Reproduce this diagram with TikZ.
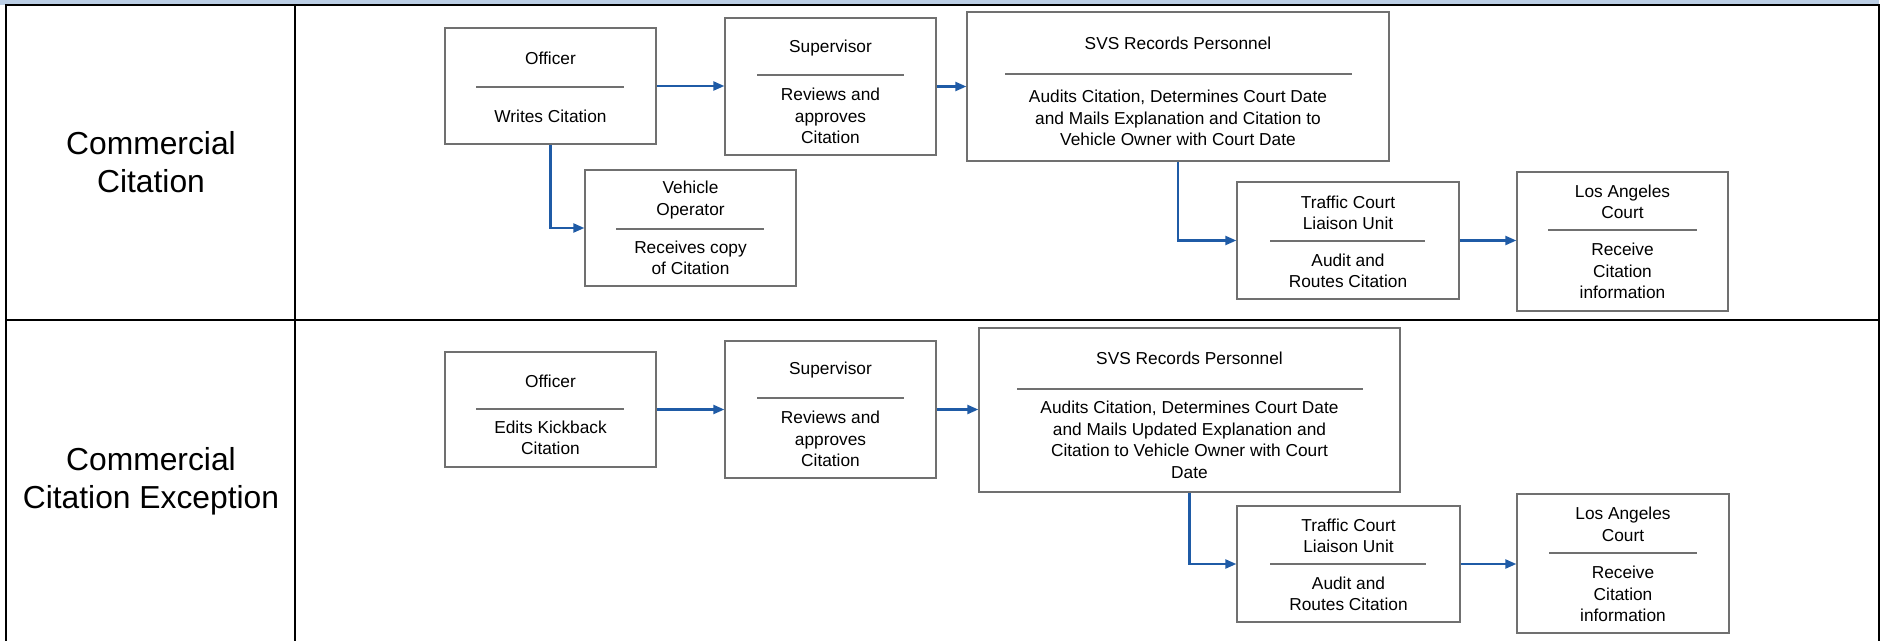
\documentclass[tikz,border=0pt]{standalone}
\usepackage{fontspec}
\setmainfont{Liberation Sans}
\usetikzlibrary{arrows.meta}

\definecolor{flowblue}{RGB}{31,91,166}
\definecolor{bandblue}{RGB}{187,206,229}
\definecolor{boxgray}{RGB}{112,112,112}

\tikzset{
  procbox/.style={draw=boxgray, line width=1.3pt, inner sep=0pt, fill=white},
  boxtext/.style={align=center, inner sep=0pt, font=\fontsize{17.3}{21.5}\selectfont},
  rowlabel/.style={align=center, inner sep=0pt, font=\fontsize{31.8}{38}\selectfont},
  divider/.style={draw=boxgray, line width=1.3pt},
  flow/.style={draw=flowblue, line width=2.2pt, -{Triangle[length=11pt,width=9pt]}},
  frame/.style={draw=black, line width=2.6pt},
}

% process box given by its corners (x1,y1) and (x2,y2)
\newcommand\stepbox[5]{%
  \node[procbox, minimum width={#4-#2}, minimum height={#5-#3}]
    (#1) at ({(#2+#4)/2},{(#3+#5)/2}) {};}

\begin{document}
\begin{tikzpicture}[x=1pt, y=-1pt]
\useasboundingbox (0,0) rectangle (1883,641);

% header band and table frame
\fill[bandblue] (0,0) rectangle (1879,4.5);
\draw[frame] (5,5) -- (1879,5);
\draw[frame] (6,4) -- (6,641);
\draw[frame] (1879,4) -- (1879,641);
\draw[frame] (295,5) -- (295,641);
\draw[frame] (6,320) -- (1879,320);

% row labels
\node[rowlabel] (lab1) at (151,162.5) {Commercial\\Citation};
\node[rowlabel] (lab2) at (151,481.5) {Commercial\\Citation Exception};

% ---------- first row ----------
\stepbox{A1}{445}{28}{656}{144}
\draw[divider] (476,87) -- (624,87);
\node[boxtext] (A1t) at (550.5,58) {Officer};
\node[boxtext] (A1b) at (550.5,116) {Writes Citation};

\stepbox{B1}{585}{170}{796}{286}
\draw[divider] (616,229) -- (764,229);
\node[boxtext] (B1t) at (690.5,200) {Vehicle\\Operator};
\node[boxtext] (B1b) at (690.5,258) {Receives copy\\of Citation};

\stepbox{C1}{725}{18}{936}{155}
\draw[divider] (757,75) -- (904,75);
\node[boxtext] (C1t) at (830.5,48) {Supervisor};
\node[boxtext] (C1b) at (830.5,116) {Reviews and\\approves\\Citation};

\stepbox{D1}{967}{12}{1389}{161}
\draw[divider] (1005,74) -- (1352,74);
\node[boxtext] (D1t) at (1178,43) {SVS Records Personnel};
\node[boxtext] (D1b) at (1178,118) {Audits Citation, Determines Court Date\\and Mails Explanation and Citation to\\Vehicle Owner with Court Date};

\stepbox{E1}{1237}{182}{1459}{299}
\draw[divider] (1270,241) -- (1425,241);
\node[boxtext] (E1t) at (1348,213) {Traffic Court\\Liaison Unit};
\node[boxtext] (E1b) at (1348,271) {Audit and\\Routes Citation};

\stepbox{F1}{1517}{172}{1728}{311}
\draw[divider] (1548,230) -- (1697,230);
\node[boxtext] (F1t) at (1622.5,202) {Los Angeles\\Court};
\node[boxtext] (F1b) at (1622.5,271) {Receive\\Citation\\information};

\draw[flow] (A1.east) -- (A1.east -| C1.west);
\draw[flow] (C1.east) -- (C1.east -| D1.west);
\draw[flow] (A1.south) |- (B1.west);
\draw[flow] (D1.south) |- (E1.west);
\draw[flow] (E1.east) -- (E1.east -| F1.west);

% ---------- second row ----------
\stepbox{A2}{445}{352}{656}{467}
\draw[divider] (476,409) -- (624,409);
\node[boxtext] (A2t) at (550.5,381) {Officer};
\node[boxtext] (A2b) at (550.5,438) {Edits Kickback\\Citation};

\stepbox{C2}{725}{341}{936}{478}
\draw[divider] (757,398) -- (904,398);
\node[boxtext] (C2t) at (830.5,370) {Supervisor};
\node[boxtext] (C2b) at (830.5,439) {Reviews and\\approves\\Citation};

\stepbox{D2}{979}{328}{1400}{492}
\draw[divider] (1017,389) -- (1363,389);
\node[boxtext] (D2t) at (1189.5,358) {SVS Records Personnel};
\node[boxtext] (D2b) at (1189.5,440) {Audits Citation, Determines Court Date\\and Mails Updated Explanation and\\Citation to Vehicle Owner with Court\\Date};

\stepbox{E2}{1237}{506}{1460}{622}
\draw[divider] (1270,564) -- (1426,564);
\node[boxtext] (E2t) at (1348.5,536) {Traffic Court\\Liaison Unit};
\node[boxtext] (E2b) at (1348.5,594) {Audit and\\Routes Citation};

\stepbox{F2}{1517}{494}{1729}{633}
\draw[divider] (1549,553) -- (1697,553);
\node[boxtext] (F2t) at (1623,524.5) {Los Angeles\\Court};
\node[boxtext] (F2b) at (1623,594) {Receive\\Citation\\information};

\draw[flow] (A2.east) -- (A2.east -| C2.west);
\draw[flow] (C2.east) -- (C2.east -| D2.west);
\draw[flow] (D2.south) |- (E2.west);
\draw[flow] (E2.east) -- (E2.east -| F2.west);
\end{tikzpicture}
\end{document}
